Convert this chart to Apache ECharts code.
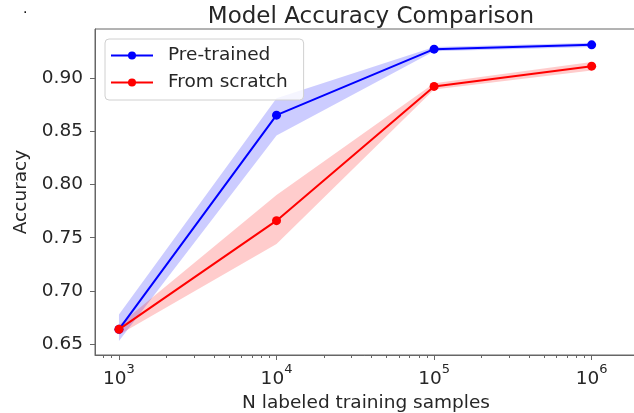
<!DOCTYPE html>
<html>
<head>
<meta charset="utf-8">
<script src="https://cdn.jsdelivr.net/npm/echarts@6/dist/echarts.min.js"></script>
<style>
  html, body { margin: 0; padding: 0; background: #fff; }
  #chart { width: 634px; height: 413px; }
</style>
</head>
<body>
<div id="chart"></div>
<script>
// Training-set sizes and the measured accuracy (mean with min/max band)
const samples = [1000, 10000, 100000, 1000000];
const pretrained = [0.664, 0.865, 0.927, 0.931];
const pretrainedLow = [0.653, 0.846, 0.925, 0.929];
const pretrainedHigh = [0.678, 0.881, 0.929, 0.933];
const scratch = [0.664, 0.766, 0.892, 0.911];
const scratchLow = [0.659, 0.744, 0.889, 0.907];
const scratchHigh = [0.668, 0.790, 0.895, 0.915];

// Tick positions
const xMajorTicks = [1e3, 1e4, 1e5, 1e6];
const yTicks = [0.65, 0.70, 0.75, 0.80, 0.85, 0.90];
const xMin = 704.7, xMax = 1.94e6;
const yMin = 0.6399, yMax = 0.9459;

// minor decade ticks (2..9 x 10^p), expressed as exponents for the helper axis
const xMinorExp = [];
for (let p = 2; p <= 6; p++) {
  for (let k = 2; k <= 9; k++) {
    const v = k * Math.pow(10, p);
    if (v > xMin && v < xMax) xMinorExp.push(Math.log10(v));
  }
}
const xMajorExp = xMajorTicks.map(v => Math.log10(v));

const FONT = 'DejaVu Sans';
const FS = 18.5;
const TEXT = '#262626';
const SPINE = '#666666';
const BLUE = '#0000ff';
const RED = '#ff0000';

const pairs = (xs, ys) => xs.map((x, i) => [x, ys[i]]);

// shaded min/max band drawn as a single polygon through the axis scales
function bandSeries(lo, hi, fill) {
  return {
    type: 'custom', silent: true, z: 1,
    data: samples.map((x, i) => [x, lo[i], hi[i]]),
    encode: { x: 0, y: [1, 2] },
    renderItem(params, api) {
      if (params.dataIndex !== 0) return null;
      const upper = samples.map((x, i) => api.coord([x, hi[i]]));
      const lower = samples.map((x, i) => api.coord([x, lo[i]])).reverse();
      return {
        type: 'polygon',
        shape: { points: upper.concat(lower) },
        style: { fill: fill }
      };
    }
  };
}

const chart = echarts.init(document.getElementById('chart'), null, { renderer: 'canvas' });

chart.setOption({
  animation: false,
  backgroundColor: '#ffffff',
  textStyle: { fontFamily: FONT },
  title: {
    text: 'Model Accuracy Comparison',
    left: 366, top: 1, textAlign: 'center',
    textStyle: { fontFamily: FONT, fontSize: 23, fontWeight: 'normal', color: TEXT }
  },
  legend: {
    data: ['Pre-trained', 'From scratch'],
    orient: 'vertical',
    left: 105, top: 39,
    padding: [6, 16, 7, 5],
    itemGap: 6,
    itemWidth: 42, itemHeight: 10,
    backgroundColor: 'rgba(255,255,255,0.8)',
    borderColor: '#d0d0d0', borderWidth: 1, borderRadius: 4,
    textStyle: { fontFamily: FONT, fontSize: FS, color: TEXT, padding: [0, 0, 0, 10], lineHeight: 21 }
  },
  graphic: [
    { type: 'text', left: 23, top: 2, style: { text: '.', fontSize: 14, fill: '#000', fontFamily: FONT } }
  ],
  grid: {
    left: 95, top: 29, bottom: 58, right: -3,
    outerBoundsMode: 'none',
    show: true, borderColor: SPINE, borderWidth: 1, backgroundColor: 'transparent'
  },
  xAxis: [
    {
      type: 'log', min: xMin, max: xMax,
      name: 'N labeled training samples', nameLocation: 'middle', nameGap: 38,
      nameTextStyle: { fontFamily: FONT, fontSize: FS, color: TEXT },
      axisLine: { show: true, lineStyle: { color: SPINE, width: 1 } },
      axisTick: { show: false },
      axisLabel: {
        margin: 8, showMinLabel: false, showMaxLabel: false,
        formatter: v => '{b|10}{s|' + Math.round(Math.log10(v)) + '}',
        rich: {
          b: { fontFamily: FONT, fontSize: FS, color: TEXT, verticalAlign: 'bottom', lineHeight: 26 },
          s: { fontFamily: FONT, fontSize: 13, color: TEXT, verticalAlign: 'top', lineHeight: 13 }
        }
      },
      splitLine: { show: false }
    },
    {
      // helper axes in exponent space carrying the minor and major tick marks
      type: 'value', min: Math.log10(xMin), max: Math.log10(xMax), position: 'bottom',
      axisLine: { show: true, lineStyle: { color: 'rgba(0,0,0,0)' } },
      axisTick: { show: true, customValues: xMinorExp, length: 3, lineStyle: { color: SPINE } },
      axisLabel: { show: false },
      splitLine: { show: false }
    },
    {
      type: 'value', min: Math.log10(xMin), max: Math.log10(xMax), position: 'bottom',
      axisLine: { show: true, lineStyle: { color: 'rgba(0,0,0,0)' } },
      axisTick: { show: true, customValues: xMajorExp, length: 5, lineStyle: { color: SPINE } },
      axisLabel: { show: false },
      splitLine: { show: false }
    }
  ],
  yAxis: {
    type: 'value', min: yMin, max: yMax,
    name: 'Accuracy', nameLocation: 'middle', nameGap: 52,
    nameTextStyle: { fontFamily: FONT, fontSize: FS, color: TEXT },
    axisLine: { show: true, lineStyle: { color: SPINE, width: 1 } },
    axisTick: { show: true, customValues: yTicks, length: 5, lineStyle: { color: SPINE } },
    axisLabel: {
      customValues: yTicks, margin: 12,
      formatter: v => v.toFixed(2),
      fontFamily: FONT, fontSize: FS, color: TEXT
    },
    splitLine: { show: false }
  },
  series: [
    bandSeries(pretrainedLow, pretrainedHigh, 'rgba(0,0,255,0.2)'),
    bandSeries(scratchLow, scratchHigh, 'rgba(255,0,0,0.2)'),
    {
      name: 'Pre-trained', type: 'line', data: pairs(samples, pretrained),
      symbol: 'circle', symbolSize: 9,
      lineStyle: { color: BLUE, width: 2 }, itemStyle: { color: BLUE }, z: 3
    },
    {
      name: 'From scratch', type: 'line', data: pairs(samples, scratch),
      symbol: 'circle', symbolSize: 9,
      lineStyle: { color: RED, width: 2 }, itemStyle: { color: RED }, z: 4
    }
  ]
});
</script>
</body>
</html>
